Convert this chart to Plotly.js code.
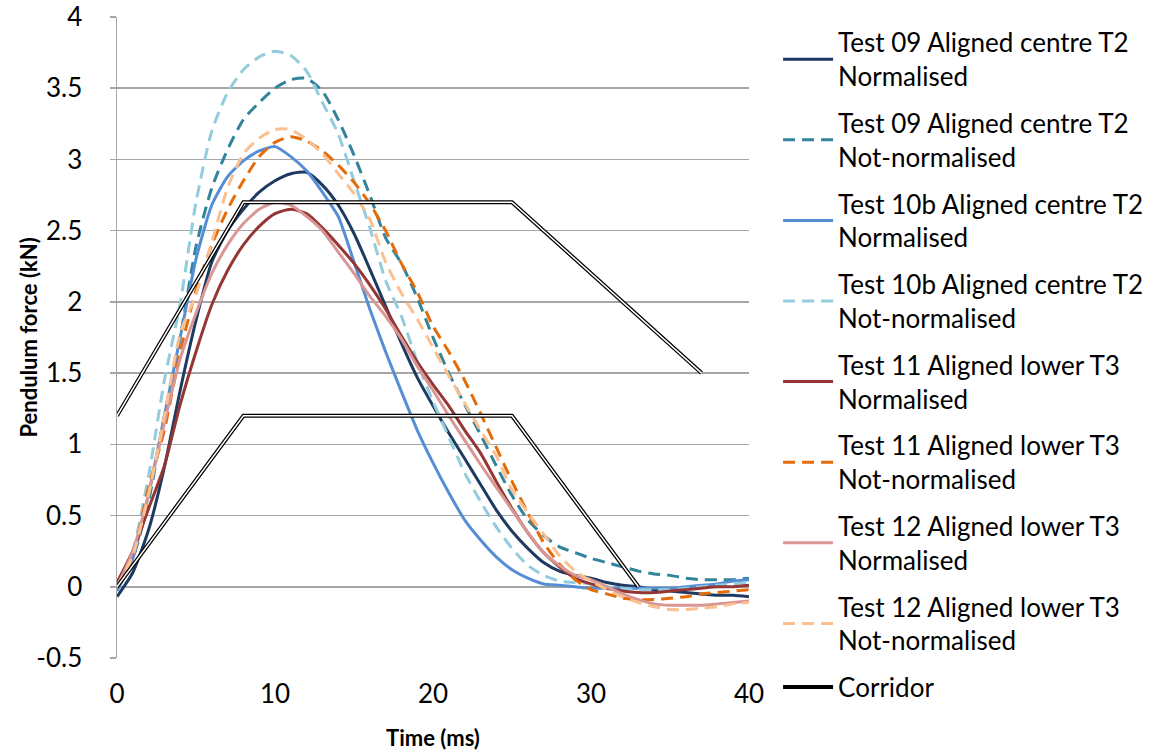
<!DOCTYPE html>
<html>
<head>
<meta charset="utf-8">
<script src="https://cdn.plot.ly/plotly-3.0.1.min.js"></script>
<style>html,body{margin:0;padding:0;background:#fff;}#chart{width:1158px;height:754px;}</style>
</head>
<body>
<div id="chart"></div>
<script>
// Time axis (ms)
const time = [0,1,2,3,4,5,6,7,8,9,10,11,12,13,14,15,16,17,18,19,20,21,22,23,24,25,26,27,28,29,30,31,32,33,34,35,36,37,38,39,40];

const test09Norm = [-0.07,0.1,0.4,0.84,1.38,1.87,2.28,2.5,2.65,2.77,2.85,2.9,2.91,2.82,2.68,2.48,2.23,1.97,1.71,1.47,1.27,1.08,0.9,0.72,0.54,0.39,0.27,0.17,0.11,0.08,0.06,0.03,0.01,0.0,-0.02,-0.03,-0.04,-0.05,-0.06,-0.06,-0.07];
const test09NotNorm = [0.0,0.2,0.6,1.2,1.75,2.39,2.8,3.07,3.28,3.4,3.5,3.56,3.57,3.48,3.28,3.03,2.75,2.45,2.27,2.03,1.75,1.5,1.28,1.07,0.85,0.64,0.47,0.36,0.28,0.24,0.2,0.17,0.14,0.11,0.09,0.08,0.06,0.05,0.05,0.05,0.06];
const test10bNorm = [-0.03,0.2,0.65,1.2,1.75,2.3,2.68,2.88,2.99,3.06,3.09,3.02,2.92,2.77,2.6,2.28,1.95,1.65,1.37,1.1,0.87,0.66,0.47,0.33,0.21,0.12,0.06,0.02,0.01,0.0,-0.01,-0.01,-0.01,-0.01,-0.01,-0.01,0.0,0.01,0.02,0.04,0.05];
const test10bNotNorm = [0.0,0.25,0.78,1.45,1.99,2.7,3.2,3.47,3.63,3.72,3.76,3.73,3.62,3.4,3.18,2.85,2.52,2.15,1.9,1.58,1.3,1.05,0.8,0.6,0.42,0.27,0.15,0.08,0.04,0.03,0.02,0.0,-0.01,-0.02,-0.02,-0.02,-0.01,0.0,0.01,0.02,0.03];
const test11Norm = [0.03,0.25,0.55,0.85,1.28,1.65,1.98,2.22,2.4,2.53,2.62,2.65,2.62,2.52,2.4,2.27,2.12,1.95,1.76,1.58,1.42,1.27,1.1,0.94,0.74,0.55,0.38,0.24,0.14,0.06,0.02,-0.01,-0.03,-0.04,-0.04,-0.03,-0.02,-0.01,0.0,0.0,0.01];
const test11NotNorm = [0.0,0.22,0.7,1.1,1.65,2.08,2.4,2.65,2.85,3.02,3.12,3.16,3.13,3.06,2.96,2.84,2.69,2.5,2.27,2.07,1.83,1.65,1.45,1.22,0.98,0.74,0.52,0.31,0.16,0.05,-0.02,-0.05,-0.08,-0.09,-0.09,-0.08,-0.07,-0.05,-0.04,-0.03,-0.02];
const test12Norm = [0.0,0.25,0.65,1.15,1.6,1.92,2.2,2.4,2.55,2.65,2.7,2.68,2.6,2.5,2.35,2.2,2.04,1.9,1.74,1.55,1.38,1.2,1.03,0.86,0.7,0.54,0.38,0.24,0.15,0.08,0.05,0.0,-0.05,-0.09,-0.12,-0.13,-0.13,-0.13,-0.12,-0.11,-0.1];
const test12NotNorm = [0.0,0.22,0.65,1.2,1.78,2.05,2.42,2.8,3.04,3.15,3.21,3.21,3.14,3.04,2.9,2.76,2.58,2.28,2.06,1.88,1.68,1.48,1.29,1.1,0.92,0.68,0.52,0.37,0.22,0.11,0.04,-0.02,-0.07,-0.11,-0.14,-0.16,-0.16,-0.15,-0.14,-0.12,-0.11];

// Corridor (upper and lower bounds)
const corridorUpperX = [0,8,25,37];
const corridorUpperY = [1.2,2.7,2.7,1.5];
const corridorLowerX = [0,8,25,33];
const corridorLowerY = [0,1.2,1.2,0];

// Tick labels
const yTickVals = [-0.5,0,0.5,1,1.5,2,2.5,3,3.5,4];
const yTickText = ["-0.5","0","0.5","1","1.5","2","2.5","3","3.5","4"];
const xTickVals = [0,10,20,30,40];
const xTickText = ["0","10","20","30","40"];

const seriesNames = [
  "Test 09 Aligned centre T2<br>Normalised",
  "Test 09 Aligned centre T2<br>Not-normalised",
  "Test 10b Aligned centre T2<br>Normalised",
  "Test 10b Aligned centre T2<br>Not-normalised",
  "Test 11 Aligned lower T3<br>Normalised",
  "Test 11 Aligned lower T3<br>Not-normalised",
  "Test 12 Aligned lower T3<br>Normalised",
  "Test 12 Aligned lower T3<br>Not-normalised"
];
const seriesData = [test09Norm,test09NotNorm,test10bNorm,test10bNotNorm,test11Norm,test11NotNorm,test12Norm,test12NotNorm];
const seriesColors = ["#1F3A60","#31849B","#558ED5","#93CDDD","#943634","#E46C0A","#D99694","#FAC090"];
const seriesDash = ["solid","12px,7px","solid","12px,7px","solid","12px,7px","solid","12px,7px"];

const traces = seriesData.map((d,i)=>({
  x: time, y: d, type:"scatter", mode:"lines", name: seriesNames[i],
  legendgroup: "g"+i,
  line:{color:seriesColors[i], width:3, dash:seriesDash[i], shape:"spline", smoothing:0.6}
}));

const corrX = corridorUpperX.concat([null]).concat(corridorLowerX);
const corrY = corridorUpperY.concat([null]).concat(corridorLowerY);
traces.push({x:corrX, y:corrY, type:"scatter", mode:"lines", name:"Corridor", legendgroup:"corr",
  line:{color:"#000000", width:4}, connectgaps:false});
traces.push({x:corrX, y:corrY, type:"scatter", mode:"lines", name:"Corridor", legendgroup:"corr", showlegend:false,
  line:{color:"#FFFFFF", width:1.5}, connectgaps:false, hoverinfo:"skip"});

const font = "Lato, 'Open Sans', sans-serif";
const layout = {
  width:1158, height:754,
  margin:{l:117, r:409, t:17, b:96, autoexpand:false},
  paper_bgcolor:"#fff", plot_bgcolor:"#fff",
  font:{family:font, size:24, color:"#000"},
  showlegend:true,
  legend:{x:1.046, xanchor:"left", y:0.997, yanchor:"top", font:{family:font, size:26, color:"#000"},
    tracegroupgap:10, itemwidth:50, maxheight:750, bgcolor:"rgba(0,0,0,0)"},
  xaxis:{range:[0,40], tickmode:"array", tickvals:xTickVals, ticktext:xTickText, showgrid:false, zeroline:false,
    showline:false, ticks:"", ticklabelstandoff:18, tickfont:{family:font,size:26},
    title:{text:"<b>Time (ms)</b>", font:{family:font,size:22}, standoff:22}},
  yaxis:{range:[-0.5,4], tickmode:"array", tickvals:yTickVals, ticktext:yTickText, showgrid:true, gridcolor:"#A6A6A6", gridwidth:1.5,
    zeroline:false, showline:true, linecolor:"#A6A6A6", linewidth:1.5,
    ticks:"outside", ticklen:6, tickcolor:"#A6A6A6", tickwidth:1.5, ticklabelstandoff:22, tickfont:{family:font,size:26}},
  annotations:[{text:"<b>Pendulum force (kN)</b>", xref:"paper", yref:"paper", x:-0.1408, y:0.5,
    xanchor:"center", yanchor:"middle", textangle:-90, showarrow:false, font:{family:font,size:22,color:"#000"}}]
};

Plotly.newPlot("chart", traces, layout, {staticPlot:true});
</script>
</body>
</html>
